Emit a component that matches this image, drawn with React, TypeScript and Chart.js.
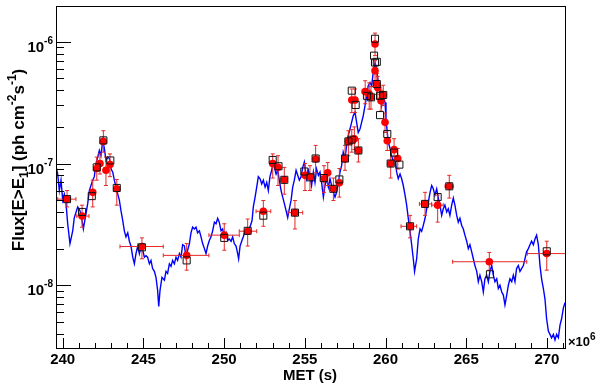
import { useEffect, useRef } from "react";
import { Chart, registerables } from "chart.js";

Chart.register(...registerables);

// ---------- data (MET in units of 1e6 s, flux in ph cm^-2 s^-1) ----------
const lcTime = [
  239.6, 239.69, 239.79, 239.895, 240.0, 240.1, 240.205, 240.31, 240.45, 240.62,
  240.72, 240.93, 241.07, 241.2, 241.28, 241.4, 241.55, 241.65, 241.75, 241.86,
  241.96, 242.06, 242.17, 242.27, 242.37, 242.48, 242.58, 242.68, 242.79, 242.89,
  243.0, 243.1, 243.2, 243.3, 243.41, 243.51, 243.61, 243.72, 243.82, 243.92,
  244.03, 244.13, 244.23, 244.34, 244.44, 244.54, 244.65, 244.75, 244.85, 244.96,
  245.06, 245.16, 245.26, 245.37, 245.47, 245.57, 245.68, 245.78, 245.88, 245.95,
  246.03, 246.15, 246.3, 246.4, 246.5, 246.61, 246.71, 246.81, 246.92, 247.02,
  247.12, 247.23, 247.33, 247.43, 247.54, 247.64, 247.74, 247.85, 247.95, 248.05,
  248.16, 248.26, 248.36, 248.47, 248.57, 248.67, 248.78, 248.88, 248.98, 249.09,
  249.19, 249.29, 249.4, 249.5, 249.6, 249.7, 249.81, 249.91, 250.01, 250.12,
  250.22, 250.32, 250.43, 250.53, 250.63, 250.74, 250.84, 250.9, 250.99, 251.11,
  251.19, 251.3, 251.4, 251.5, 251.6, 251.73, 251.81, 251.92, 252.02, 252.12,
  252.23, 252.33, 252.43, 252.54, 252.64, 252.74, 252.84, 252.95, 253.01, 253.11,
  253.22, 253.32, 253.42, 253.53, 253.63, 253.73, 253.84, 253.94, 254.04, 254.15,
  254.25, 254.35, 254.46, 254.56, 254.66, 254.77, 254.87, 254.97, 255.11, 255.22,
  255.32, 255.42, 255.53, 255.63, 255.73, 255.84, 255.94, 256.04, 256.15, 256.25,
  256.35, 256.46, 256.56, 256.66, 256.77, 256.87, 256.97, 257.08, 257.18, 257.28,
  257.38, 257.49, 257.59, 257.69, 257.8, 257.9, 258.0, 258.11, 258.21, 258.31,
  258.42, 258.52, 258.62, 258.73, 258.83, 258.93, 259.04, 259.14, 259.24, 259.35,
  259.45, 259.55, 259.66, 259.76, 259.86, 259.97, 260.03, 260.11, 260.17, 260.28,
  260.38, 260.48, 260.59, 260.69, 260.79, 260.9, 261.0, 261.1, 261.21, 261.31,
  261.41, 261.52, 261.62, 261.72, 261.8, 261.93, 262.03, 262.14, 262.24, 262.34,
  262.45, 262.55, 262.65, 262.76, 262.86, 262.96, 263.06, 263.17, 263.27, 263.37,
  263.48, 263.58, 263.68, 263.79, 263.89, 263.99, 264.1, 264.2, 264.3, 264.41,
  264.51, 264.61, 264.72, 264.82, 264.92, 265.03, 265.13, 265.23, 265.34, 265.44,
  265.54, 265.65, 265.75, 265.85, 265.96, 266.06, 266.16, 266.27, 266.37, 266.47,
  266.58, 266.68, 266.78, 266.89, 266.99, 267.09, 267.2, 267.3, 267.4, 267.51,
  267.61, 267.71, 267.82, 267.92, 268.02, 268.12, 268.23, 268.33, 268.43, 268.54,
  268.64, 268.74, 268.85, 268.95, 269.05, 269.16, 269.26, 269.36, 269.47, 269.57,
  269.67, 269.78, 269.88, 269.98, 270.09, 270.19, 270.29, 270.4, 270.5, 270.6,
  270.71, 270.81, 270.91, 271.02, 271.12,
];
const lcFlux = [
  9.3e-8, 8.2e-8, 6.0e-8, 7.3e-8, 5.0e-8, 5.6e-8, 4.7e-8, 3.2e-8, 2.2e-8, 2.8e-8,
  3.6e-8, 4.4e-8, 4.1e-8, 3.4e-8, 2.9e-8, 3.6e-8, 4.7e-8, 6.0e-8, 6.6e-8, 7.3e-8,
  7.8e-8, 1.0e-7, 1.13e-7, 1.28e-7, 1.16e-7, 1.54e-7, 1.33e-7, 1.06e-7, 1.13e-7, 1.1e-7,
  9.0e-8, 8.5e-8, 7.3e-8, 6.4e-8, 5.6e-8, 5.0e-8, 4.1e-8, 3.4e-8, 2.8e-8, 2.5e-8,
  2.7e-8, 2.3e-8, 2.1e-8, 1.7e-8, 1.5e-8, 1.82e-8, 2.1e-8, 1.82e-8, 2.1e-8, 1.94e-8,
  1.7e-8, 1.75e-8, 1.7e-8, 1.5e-8, 1.6e-8, 1.37e-8, 1.3e-8, 1.16e-8, 9.1e-9, 6.7e-9,
  9.1e-9, 1.16e-8, 1.1e-8, 1.3e-8, 1.25e-8, 1.5e-8, 1.43e-8, 1.6e-8, 1.5e-8, 1.7e-8,
  1.6e-8, 1.82e-8, 1.7e-8, 2.15e-8, 2.1e-8, 1.7e-8, 1.94e-8, 2.2e-8, 2.7e-8, 3.0e-8,
  2.9e-8, 3.0e-8, 2.7e-8, 2.8e-8, 2.5e-8, 2.2e-8, 2.0e-8, 1.82e-8, 2.1e-8, 2.34e-8,
  2.5e-8, 2.8e-8, 3.3e-8, 3.2e-8, 3.55e-8, 3.3e-8, 2.8e-8, 2.9e-8, 2.5e-8, 2.7e-8,
  2.34e-8, 2.4e-8, 2.3e-8, 2.5e-8, 2.2e-8, 2.1e-8, 1.82e-8, 1.65e-8, 2.1e-8, 2.34e-8,
  2.5e-8, 2.8e-8, 2.7e-8, 2.8e-8, 3.0e-8, 3.4e-8, 4.4e-8, 5.3e-8, 6.4e-8, 7.8e-8,
  7.5e-8, 6.8e-8, 7.3e-8, 6.4e-8, 7.0e-8, 6.0e-8, 7.8e-8, 8.8e-8, 1.0e-7, 9.3e-8,
  8.2e-8, 8.8e-8, 7.3e-8, 6.0e-8, 5.3e-8, 4.7e-8, 4.1e-8, 3.6e-8, 4.25e-8, 5.0e-8,
  6.4e-8, 7.3e-8, 8.8e-8, 8.0e-8, 7.3e-8, 7.8e-8, 9.3e-8, 1.03e-7, 7.5e-8, 8.8e-8,
  8.0e-8, 6.6e-8, 8.5e-8, 7.0e-8, 9.0e-8, 8.0e-8, 8.5e-8, 7.0e-8, 5.3e-8, 6.6e-8,
  7.5e-8, 6.4e-8, 7.5e-8, 6.6e-8, 5.8e-8, 5.3e-8, 5.8e-8, 7.0e-8, 8.5e-8, 9.6e-8,
  1.24e-7, 1.1e-7, 1.41e-7, 1.7e-7, 1.92e-7, 2.18e-7, 2.47e-7, 2.64e-7, 2.18e-7, 1.8e-7,
  1.92e-7, 2.18e-7, 2.47e-7, 2.99e-7, 3.6e-7, 4.36e-7, 4.64e-7, 4.36e-7, 5.6e-7, 6.76e-7,
  5.97e-7, 4.64e-7, 3.84e-7, 2.99e-7, 3.6e-7, 3.18e-7, 2.33e-7, 1.8e-7, 1.5e-7, 1.33e-7,
  1.16e-7, 1.03e-7, 1.1e-7, 8.5e-8, 7.5e-8, 8.2e-8, 7.5e-8, 6.6e-8, 5.5e-8, 4.55e-8,
  3.55e-8, 2.77e-8, 2.15e-8, 1.65e-8, 1.3e-8, 1.65e-8, 2.4e-8, 2.9e-8, 2.77e-8, 3.1e-8,
  3.55e-8, 4.25e-8, 4.8e-8, 5.8e-8, 6.6e-8, 6.2e-8, 5.5e-8, 6.2e-8, 5.2e-8, 4.55e-8,
  3.75e-8, 4.25e-8, 4.55e-8, 4.0e-8, 4.25e-8, 3.75e-8, 4.55e-8, 5.2e-8, 4.55e-8, 3.75e-8,
  3.3e-8, 3.55e-8, 3.1e-8, 2.9e-8, 2.58e-8, 2.3e-8, 2.0e-8, 2.15e-8, 1.88e-8, 1.65e-8,
  1.45e-8, 1.3e-8, 1.07e-8, 1.21e-8, 1.07e-8, 8.8e-9, 1.13e-8, 1.21e-8, 1.07e-8, 1.3e-8,
  1.45e-8, 1.21e-8, 1.07e-8, 1.13e-8, 9.4e-9, 1.0e-8, 8.8e-9, 8.3e-9, 6.9e-9, 8.3e-9,
  1.0e-8, 1.13e-8, 1.07e-8, 1.21e-8, 1.07e-8, 1.37e-8, 1.45e-8, 1.3e-8, 1.37e-8, 1.45e-8,
  1.65e-8, 1.88e-8, 2.0e-8, 2.15e-8, 2.3e-8, 2.15e-8, 2.4e-8, 2.58e-8, 2.15e-8, 1.45e-8,
  1.13e-8, 9.4e-9, 7.7e-9, 5.3e-9, 4.2e-9, 3.95e-9, 3.7e-9, 3.95e-9, 3.55e-9, 3.95e-9,
  3.7e-9, 4.7e-9, 5.3e-9, 6.5e-9, 7.2e-9,
];

// red points with error bars
const ptTime = [
  240.27, 241.2, 241.86, 242.11, 242.31, 242.52, 242.68, 242.93, 243.35, 244.91,
  247.68, 250.01, 251.46, 252.43, 253.01, 253.34, 253.73, 254.39, 255.01, 255.32,
  255.67, 256.19, 256.42, 256.77, 257.14, 257.49, 257.7, 257.91, 258.07, 258.32,
  257.91, 258.11, 258.74, 258.99, 259.1, 259.35, 259.35, 259.46, 259.52, 259.86,
  259.72, 259.97, 260.11, 260.53, 260.32, 260.76, 261.52, 262.45, 263.23, 263.95,
  266.43, 269.99,
];
const ptFlux = [
  5.1e-8, 3.7e-8, 5.8e-8, 9.1e-8, 1.0e-7, 1.52e-7, 8.8e-8, 9.8e-8, 6.2e-8, 2.08e-8,
  1.76e-8, 2.58e-8, 2.78e-8, 4.05e-8, 1.0e-7, 9.3e-8, 7.35e-8, 3.95e-8, 8.0e-8, 7.8e-8,
  1.09e-7, 7.5e-8, 8.4e-8, 6.2e-8, 6.95e-8, 1.09e-7, 1.52e-7, 1.57e-7, 1.6e-7, 1.28e-7,
  3.33e-7, 3.33e-7, 3.9e-7, 3.73e-7, 3.5e-7, 9.6e-7, 5.8e-7, 4.5e-7, 4.2e-7, 3.66e-7,
  3.28e-7, 2.18e-7, 1.54e-7, 1.3e-7, 1.0e-7, 1.1e-7, 3.05e-8, 4.66e-8, 4.55e-8, 6.5e-8,
  1.56e-8, 1.82e-8,
];
const ptTimeLo = [
  239.69, 240.87, 241.72, 242.11, 242.31, 242.52, 242.68, 242.93, 243.25, 243.55,
  246.23, 249.06, 250.94, 251.98, 253.01, 253.34, 253.73, 253.96, 255.01, 255.32,
  255.67, 256.19, 256.42, 256.77, 257.14, 257.49, 257.7, 257.91, 258.07, 258.32,
  257.91, 258.11, 258.55, 258.99, 259.1, 259.35, 259.35, 259.46, 259.52, 259.86,
  259.72, 259.97, 260.11, 260.53, 260.32, 260.76, 260.96, 262.1, 262.86, 263.69,
  264.16, 268.79,
];
const ptTimeHi = [
  240.82, 241.63, 242.0, 242.11, 242.31, 242.52, 242.68, 242.93, 243.45, 246.23,
  249.06, 250.94, 252.02, 252.89, 253.01, 253.34, 253.73, 254.87, 255.01, 255.32,
  255.67, 256.19, 256.42, 256.77, 257.14, 257.49, 257.7, 257.91, 258.07, 258.32,
  257.91, 258.11, 259.05, 258.99, 259.1, 259.35, 259.35, 259.46, 259.52, 259.86,
  259.72, 259.97, 260.11, 260.53, 260.32, 260.76, 261.93, 262.86, 263.58, 264.2,
  268.75, 271.2,
];
const ptFluxLo = [
  4.4e-8, 3.0e-8, 4.4e-8, 7.3e-8, 8.2e-8, 1.24e-7, 6.6e-8, 7.8e-8, 4.55e-8, 1.65e-8,
  1.33e-8, 1.94e-8, 2.1e-8, 3.05e-8, 7.6e-8, 6.6e-8, 5.6e-8, 2.9e-8, 6.0e-8, 6.0e-8,
  8.4e-8, 5.8e-8, 6.6e-8, 4.97e-8, 5.3e-8, 8.8e-8, 1.16e-7, 1.24e-7, 1.3e-7, 1.03e-7,
  2.62e-7, 2.62e-7, 3.1e-7, 2.8e-7, 2.8e-7, 7.7e-7, 4.8e-7, 3.7e-7, 3.4e-7, 3.0e-7,
  2.7e-7, 1.8e-7, 1.28e-7, 1.06e-7, 7.6e-8, 9.0e-8, 2.45e-8, 3.75e-8, 3.3e-8, 5.2e-8,
  1.33e-8, 1.33e-8,
];
const ptFluxHi = [
  6.0e-8, 4.55e-8, 7.3e-8, 1.13e-7, 1.2e-7, 1.86e-7, 1.13e-7, 1.2e-7, 7.4e-8, 2.45e-8,
  2.2e-8, 3.2e-8, 3.5e-8, 4.97e-8, 1.2e-7, 1.16e-7, 9.3e-8, 4.97e-8, 1.0e-7, 9.6e-8,
  1.41e-7, 9.6e-8, 1.02e-7, 7.6e-8, 9.1e-8, 1.41e-7, 1.86e-7, 1.9e-7, 2.0e-7, 1.6e-7,
  4.1e-7, 4.1e-7, 4.79e-7, 4.6e-7, 4.3e-7, 1.18e-6, 7.0e-7, 5.5e-7, 5.2e-7, 4.4e-7,
  4.0e-7, 2.6e-7, 1.86e-7, 1.6e-7, 1.28e-7, 1.33e-7, 3.75e-8, 5.8e-8, 5.5e-8, 8.0e-8,
  1.86e-8, 2.3e-8,
];

// open black squares
const sqTime = [
  240.27, 241.2, 241.8, 242.11, 242.52, 242.95, 243.35, 244.91, 247.68, 250.01,
  251.46, 252.43, 253.01, 253.37, 253.73, 254.39, 254.97, 255.35, 255.67, 256.17,
  256.77, 257.14, 257.49, 257.7, 257.91, 258.32, 257.91, 258.15, 258.85, 259.1,
  259.35, 259.29, 259.35, 259.46, 259.46, 259.66, 259.86, 259.66, 260.11, 260.53,
  260.32, 260.86, 261.52, 262.45, 263.23, 263.95, 266.47, 269.99,
];
const sqFlux = [
  5.1e-8, 4.0e-8, 5.4e-8, 9.3e-8, 1.55e-7, 1.06e-7, 6.3e-8, 2.05e-8, 1.6e-8, 2.45e-8,
  2.8e-8, 3.73e-8, 1.07e-7, 9.5e-8, 7.35e-8, 3.95e-8, 8.6e-8, 7.7e-8, 1.1e-7, 7.6e-8,
  6.2e-8, 7.4e-8, 1.1e-7, 1.52e-7, 1.57e-7, 1.28e-7, 3.97e-7, 3.03e-7, 3.6e-7, 3.5e-7,
  1.06e-6, 7.7e-7, 6.76e-7, 6.85e-7, 4.5e-7, 3.6e-7, 3.66e-7, 2.5e-7, 1.75e-7, 1.23e-7,
  1.0e-7, 9.8e-8, 3.05e-8, 4.66e-8, 5.3e-8, 6.5e-8, 1.23e-8, 1.9e-8,
];

// axes
const xMin = 239.585;
const xMax = 271.12;
const yMin = 3.05e-9;
const yMax = 1.97e-6;
const xMajorTicks = [240, 245, 250, 255, 260, 265, 270];
const xTickLabels = ["240", "245", "250", "255", "260", "265", "270"];
const xMinorStep = 1;
const yDecades = [1e-8, 1e-7, 1e-6];
const yTickExponents = ["-8", "-7", "-6"];
const yMinorMultipliers = [2, 3, 4, 5, 6, 7, 8, 9];

const FONT = '"Liberation Sans", Arial, Helvetica, sans-serif';

const errorBarPlugin = {
  id: "errorBars",
  beforeDatasetDraw(chart: any, args: any) {
    if (args.index !== 1) return;
    const ctx = chart.ctx;
    const xs = chart.scales.x;
    const ys = chart.scales.y;
    const a = chart.chartArea;
    ctx.save();
    ctx.beginPath();
    ctx.rect(a.left, a.top, a.right - a.left, a.bottom - a.top);
    ctx.clip();
    ctx.strokeStyle = "rgb(230,40,40)";
    ctx.lineWidth = 1;
    const cap = 2;
    for (let i = 0; i < ptTime.length; i++) {
      const x = xs.getPixelForValue(ptTime[i]);
      const y = ys.getPixelForValue(ptFlux[i]);
      const x0 = xs.getPixelForValue(ptTimeLo[i]);
      const x1 = xs.getPixelForValue(ptTimeHi[i]);
      const y0 = ys.getPixelForValue(ptFluxLo[i]);
      const y1 = ys.getPixelForValue(ptFluxHi[i]);
      ctx.beginPath();
      ctx.moveTo(x, y0);
      ctx.lineTo(x, y1);
      ctx.moveTo(x - cap, y0);
      ctx.lineTo(x + cap, y0);
      ctx.moveTo(x - cap, y1);
      ctx.lineTo(x + cap, y1);
      if (x1 - x0 > 1) {
        ctx.moveTo(x0, y);
        ctx.lineTo(x1, y);
        ctx.moveTo(x0, y - cap);
        ctx.lineTo(x0, y + cap);
        ctx.moveTo(x1, y - cap);
        ctx.lineTo(x1, y + cap);
      }
      ctx.stroke();
    }
    ctx.restore();
  },
};

const rootAxesPlugin = {
  id: "rootAxes",
  afterDraw(chart: any) {
    const ctx = chart.ctx;
    const a = chart.chartArea;
    const xs = chart.scales.x;
    const ys = chart.scales.y;
    ctx.save();
    ctx.strokeStyle = "#000";
    ctx.fillStyle = "#000";
    ctx.lineWidth = 1;
    // frame
    ctx.strokeRect(a.left + 0.5, a.top + 0.5, a.right - a.left, a.bottom - a.top);

    // x ticks (inward from bottom)
    ctx.beginPath();
    for (let v = Math.ceil(xMin); v <= xMax; v += xMinorStep) {
      const px = Math.round(xs.getPixelForValue(v)) + 0.5;
      const major = xMajorTicks.indexOf(v) >= 0;
      const len = major ? 10 : 5;
      ctx.moveTo(px, a.bottom);
      ctx.lineTo(px, a.bottom - len);
    }
    // y ticks (inward from left)
    for (let e = -9; e <= -6; e++) {
      const base = Math.pow(10, e);
      for (const m of [1, ...yMinorMultipliers]) {
        const v = m * base;
        if (v < yMin || v > yMax) continue;
        const py = Math.round(ys.getPixelForValue(v)) + 0.5;
        const len = m === 1 ? 15 : 8;
        ctx.moveTo(a.left, py);
        ctx.lineTo(a.left + len, py);
      }
    }
    ctx.stroke();

    // x tick labels
    ctx.font = `bold 15px ${FONT}`;
    ctx.textAlign = "center";
    ctx.textBaseline = "alphabetic";
    xMajorTicks.forEach((v, i) => {
      const px = xs.getPixelForValue(v);
      ctx.fillText(xTickLabels[i], px, a.bottom + 16);
    });

    // y tick labels: 10^n
    yDecades.forEach((v, i) => {
      const py = ys.getPixelForValue(v);
      ctx.font = `bold 10px ${FONT}`;
      const ws = ctx.measureText(yTickExponents[i]).width;
      ctx.font = `bold 15px ${FONT}`;
      const wb = ctx.measureText("10").width;
      const right = a.left - 3;
      ctx.textAlign = "left";
      ctx.fillText("10", right - ws - wb, py + 10);
      ctx.font = `bold 10px ${FONT}`;
      ctx.fillText(yTickExponents[i], right - ws, py + 2);
    });

    // x10^6 multiplier
    ctx.textAlign = "left";
    ctx.font = `bold 13px ${FONT}`;
    ctx.fillText("\u00d710", a.right + 3, a.bottom - 2);
    const wm = ctx.measureText("\u00d710").width;
    ctx.font = `bold 10px ${FONT}`;
    ctx.fillText("6", a.right + 3 + wm, a.bottom - 8);

    // x title
    ctx.font = `bold 15px ${FONT}`;
    ctx.textAlign = "center";
    ctx.fillText("MET (s)", 310, 380);

    // y title (rotated)
    const segs = [
      { t: "Flux[E>E", s: 0 },
      { t: "1", s: -1 },
      { t: "] (ph cm", s: 0 },
      { t: "-2", s: 1 },
      { t: "s", s: 0 },
      { t: "-1", s: 1 },
      { t: ")", s: 0 },
    ];
    const mainF = `bold 17px ${FONT}`;
    const subF = `bold 12px ${FONT}`;
    let total = 0;
    const widths = segs.map((g) => {
      ctx.font = g.s === 0 ? mainF : subF;
      const w = ctx.measureText(g.t).width;
      total += w;
      return w;
    });
    ctx.translate(24, 160);
    ctx.rotate(-Math.PI / 2);
    ctx.textAlign = "left";
    let cx = -total / 2;
    segs.forEach((g, i) => {
      ctx.font = g.s === 0 ? mainF : subF;
      const dy = g.s === 0 ? 0 : g.s > 0 ? -8 : 4;
      ctx.fillText(g.t, cx, dy);
      cx += widths[i];
    });
    ctx.restore();
  },
};

export default function App() {
  const ref = useRef<HTMLCanvasElement | null>(null);
  useEffect(() => {
    document.body.style.margin = "0";
    if (!ref.current) return;
    const chart = new Chart(ref.current, {
      type: "scatter",
      data: {
        datasets: [
          {
            label: "Light curve",
            data: lcTime.map((t, i) => ({ x: t, y: lcFlux[i] })),
            showLine: true,
            borderColor: "#0000ff",
            borderWidth: 1.4,
            pointRadius: 0,
            fill: false,
            tension: 0,
            order: 3,
          },
          {
            label: "Flux points",
            data: ptTime.map((t, i) => ({ x: t, y: ptFlux[i] })),
            pointStyle: "circle",
            pointRadius: 3.8,
            backgroundColor: "#ff0000",
            borderColor: "#ff0000",
            borderWidth: 0,
            order: 2,
          },
          {
            label: "Squares",
            data: sqTime.map((t, i) => ({ x: t, y: sqFlux[i] })),
            pointStyle: "rect",
            pointRadius: 5,
            backgroundColor: "rgba(0,0,0,0)",
            borderColor: "#111",
            borderWidth: 1,
            order: 1,
          },
        ],
      },
      options: {
        animation: false,
        responsive: false,
        events: [],
        layout: { padding: { left: 0, top: 5, right: 35, bottom: 0 } },
        plugins: { legend: { display: false }, tooltip: { enabled: false } },
        scales: {
          x: {
            type: "linear",
            min: xMin,
            max: xMax,
            grid: { display: false },
            border: { display: false },
            ticks: { display: false },
            afterFit: (s: any) => {
              s.height = 38;
            },
          },
          y: {
            type: "logarithmic",
            min: yMin,
            max: yMax,
            grid: { display: false },
            border: { display: false },
            ticks: { display: false },
            afterFit: (s: any) => {
              s.width = 56;
            },
          },
        },
      },
      plugins: [errorBarPlugin, rootAxesPlugin],
    } as any);
    return () => chart.destroy();
  }, []);
  return (
    <div style={{ width: 600, height: 386, background: "#fff" }}>
      <canvas ref={ref} width={600} height={386} style={{ display: "block" }} />
    </div>
  );
}
